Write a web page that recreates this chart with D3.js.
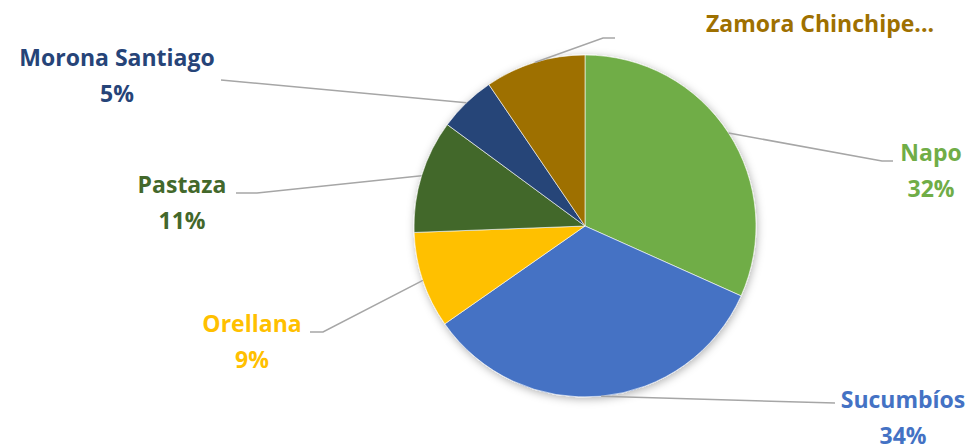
<!DOCTYPE html>
<meta charset="utf-8">
<style>

html, body {
  margin: 0;
  padding: 0;
  overflow: hidden;
  background: #fff;
}

svg {
  display: block;
}

.label {
  font-family: "Open Sans", sans-serif;
  font-weight: bold;
  font-size: 23px;
  text-anchor: middle;
}

.leader {
  fill: none;
  stroke: #a6a6a6;
  stroke-width: 1.5px;
}

</style>
<svg width="974" height="447"></svg>
<script src="https://d3js.org/d3.v7.min.js"></script>
<script>

// share of each province
var provinces = ["Napo", "Sucumbíos", "Orellana", "Pastaza", "Morona Santiago", "Zamora Chinchipe"];
var shares = [31.7, 33.6, 9.1, 10.7, 5.4, 9.5];
var colors = ["#70ad47", "#4472c4", "#ffc000", "#43682b", "#264478", "#9e7000"];

// where Excel put each data label and the bend of its leader line
var layout = {
  "Napo":             { x: 931, y: 161, bend: [[882, 161], [893, 161]], pct: true },
  "Sucumbíos":        { x: 903, y: 408, bend: [[835, 403]], pct: true },
  "Orellana":         { x: 252, y: 332, bend: [[323, 332], [310, 332]], pct: true },
  "Pastaza":          { x: 182, y: 193, bend: [[257, 193], [236, 193]], pct: true },
  "Morona Santiago":  { x: 117, y: 66,  bend: [[221, 80]], pct: true },
  "Zamora Chinchipe": { x: 820, y: 32,  bend: [[603, 38], [615, 38]], pct: false, text: "Zamora Chinchipe..." }
};

var svg = d3.select("svg");
var cx = 585, cy = 226, radius = 171;

var defs = svg.append("defs");
var shadow = defs.append("filter")
    .attr("id", "shadow")
    .attr("x", "-20%").attr("y", "-20%")
    .attr("width", "140%").attr("height", "140%");
shadow.append("feDropShadow")
    .attr("dx", 1).attr("dy", 2)
    .attr("stdDeviation", 4)
    .attr("flood-color", "#000")
    .attr("flood-opacity", 0.3);

var data = provinces.map(function(p, i) { return { name: p, value: shares[i], color: colors[i] }; });
var total = d3.sum(shares);

var pie = d3.pie()
    .sort(null)
    .value(function(d) { return d.value; });

var arc = d3.arc()
    .innerRadius(0)
    .outerRadius(radius);

var rim = d3.arc()
    .innerRadius(radius)
    .outerRadius(radius);

var arcs = pie(data);

var g = svg.append("g")
    .attr("transform", "translate(" + cx + "," + cy + ")");

g.append("g")
    .attr("filter", "url(#shadow)")
  .selectAll("path")
  .data(arcs)
  .enter().append("path")
    .attr("d", arc)
    .attr("fill", function(d) { return d.data.color; })
    .attr("stroke", "#fff")
    .attr("stroke-width", 0.6);

// leader lines, from the middle of each slice's rim
var line = d3.line();
svg.selectAll(".leader")
  .data(arcs)
  .enter().append("path")
    .attr("class", "leader")
    .attr("d", function(d) {
      var c = rim.centroid(d);
      var pts = [[c[0] + cx, c[1] + cy]].concat(layout[d.data.name].bend);
      return line(pts);
    });

var labels = svg.selectAll(".label")
  .data(arcs)
  .enter().append("text")
    .attr("class", "label")
    .attr("fill", function(d) { return d.data.color; })
    .attr("x", function(d) { return layout[d.data.name].x; })
    .attr("y", function(d) { return layout[d.data.name].y; });

labels.append("tspan")
    .text(function(d) { return layout[d.data.name].text || d.data.name; });

labels.filter(function(d) { return layout[d.data.name].pct; })
  .append("tspan")
    .attr("x", function(d) { return layout[d.data.name].x; })
    .attr("dy", 36)
    .text(function(d) { return Math.round(d.data.value / total * 100) + "%"; });

</script>
